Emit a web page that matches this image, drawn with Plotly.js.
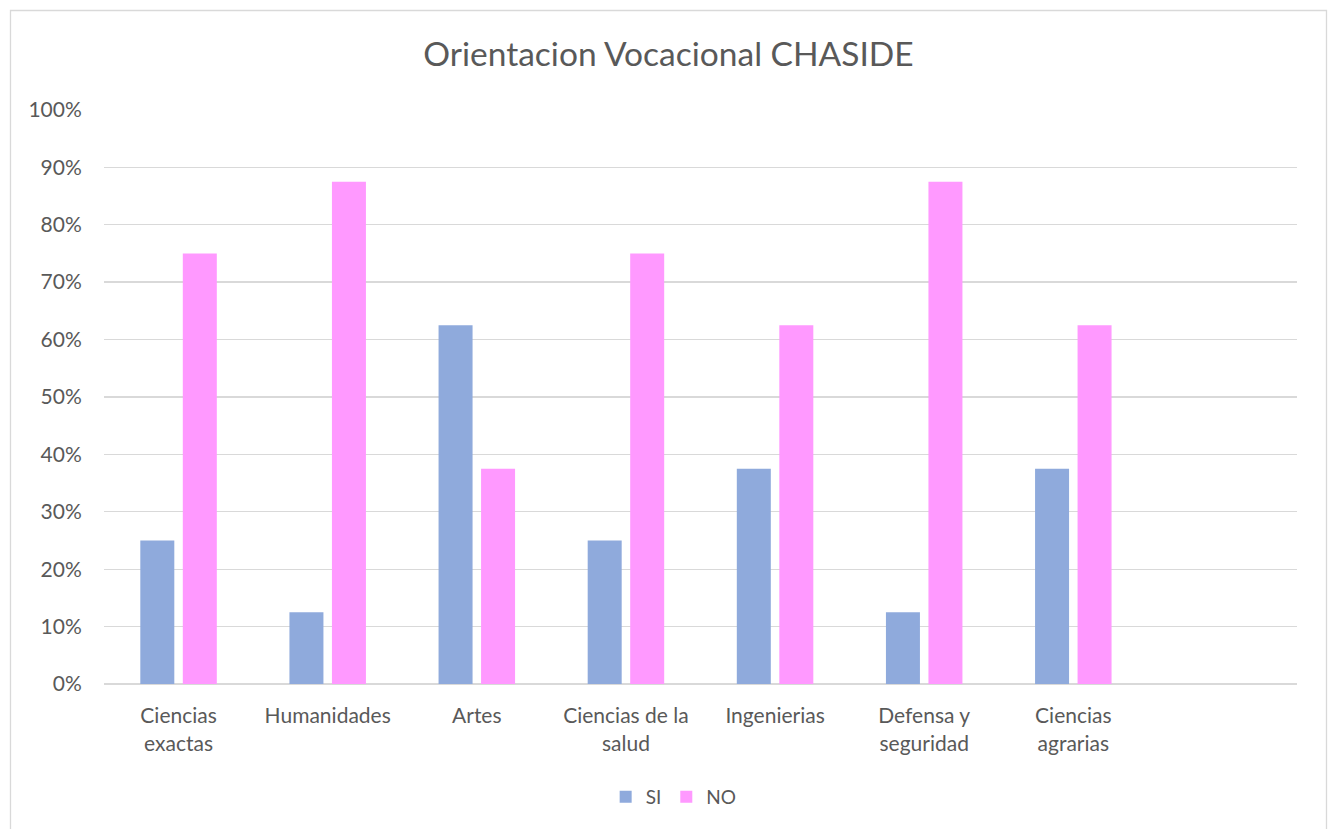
<!DOCTYPE html>
<html>
<head>
<meta charset="utf-8">
<script src="https://cdn.plot.ly/plotly-3.0.1.min.js"></script>
<style>html,body{margin:0;padding:0;background:#fff;}#chart{width:1329px;height:829px;}</style>
</head>
<body>
<div id="chart"></div>
<script>
var categories = ["Ciencias<br>exactas", "Humanidades", "Artes", "Ciencias de la<br>salud", "Ingenierias", "Defensa y<br>seguridad", "Ciencias<br>agrarias"];
var siValues = [0.25, 0.125, 0.625, 0.25, 0.375, 0.125, 0.375];
var noValues = [0.75, 0.875, 0.375, 0.75, 0.625, 0.875, 0.625];
var yTicks = [0, 0.1, 0.2, 0.3, 0.4, 0.5, 0.6, 0.7, 0.8, 0.9, 1.0];

var font = "Lato, 'Open Sans', sans-serif";
var traces = [
  {type: "bar", name: "SI", x: categories, y: siValues, marker: {color: "#8faadc"}, hoverinfo: "y"},
  {type: "bar", name: "NO", x: categories, y: noValues, marker: {color: "#ff99ff"}, hoverinfo: "y"}
];
var layout = {
  width: 1329, height: 829,
  margin: {l: 104, r: 32, t: 109, b: 145},
  paper_bgcolor: "#fff", plot_bgcolor: "#fff",
  font: {family: font, color: "#595959", size: 21},
  title: {text: "Orientacion Vocacional CHASIDE", font: {family: font, size: 33.5, color: "#595959"}, x: 0.503, xanchor: "center", y: 0.934, yanchor: "middle"},
  barmode: "group", bargap: 0.43, bargroupgap: 0.2,
  xaxis: {type: "category", range: [-0.5, 7.5], showgrid: false, zeroline: false, showline: false,
          ticks: "outside", ticklen: 13, tickcolor: "rgba(0,0,0,0)", tickfont: {size: 21, color: "#595959"}, fixedrange: true},
  yaxis: {range: [0, 1.0015], tickvals: yTicks, tickformat: ".0%", gridcolor: "#d9d9d9", gridwidth: 1.3, zeroline: true, zerolinecolor: "#d9d9d9", zerolinewidth: 1.5,
          showline: false, ticks: "outside", ticklen: 17, tickcolor: "rgba(0,0,0,0)", tickfont: {size: 21, color: "#595959"}, fixedrange: true},
  legend: {orientation: "h", x: 0.4775, xanchor: "center", y: -0.1965, yanchor: "middle", font: {size: 19, color: "#595959"}, itemwidth: 30, tracegroupgap: 0},
  showlegend: true,
  shapes: [{type: "rect", xref: "paper", yref: "paper", x0: (10.5-104)/1193, x1: (1326.5-104)/1193, y0: (684-835)/575, y1: (684-10.5)/575,
            line: {color: "#d9d9d9", width: 1.3}, fillcolor: "rgba(0,0,0,0)", layer: "below"}]
};
Plotly.newPlot("chart", traces, layout, {displayModeBar: false, staticPlot: true});
</script>
</body>
</html>
